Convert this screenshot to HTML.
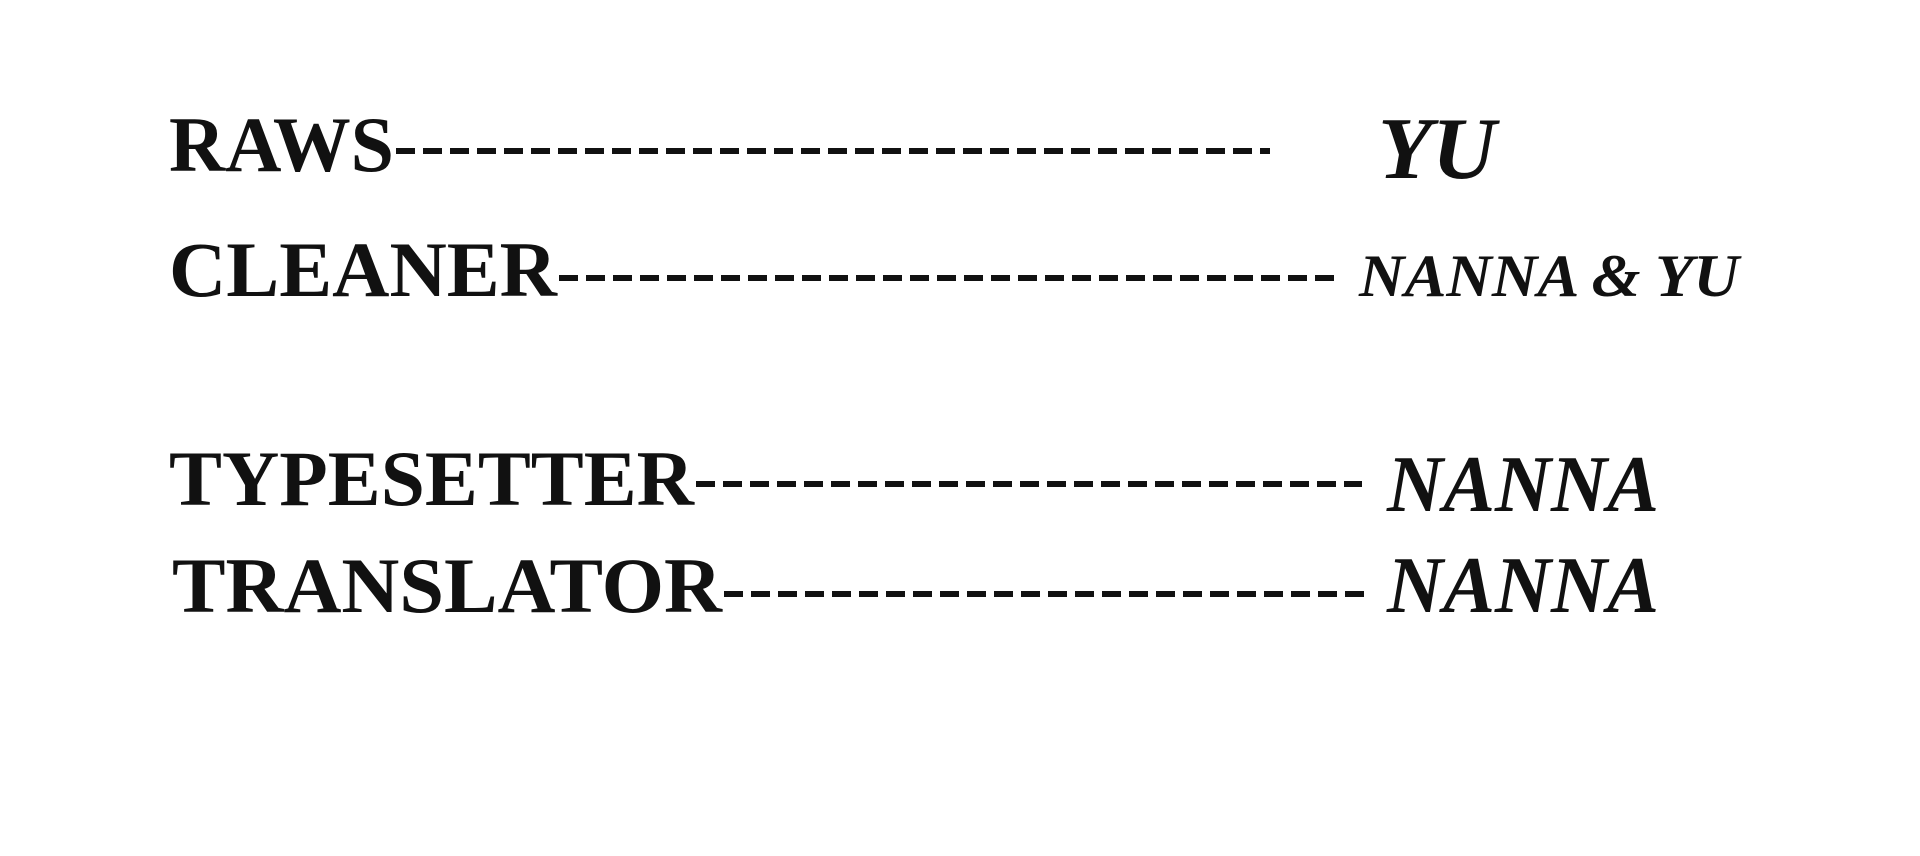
<!DOCTYPE html>
<html><head><style>html,body{margin:0;padding:0;background:#fff;}svg{display:block}</style></head>
<body>
<svg width="1920" height="856" viewBox="0 0 1920 856" xmlns="http://www.w3.org/2000/svg">
<rect width="1920" height="856" fill="#fff"/>
<g font-family="'Liberation Serif', serif" fill="#111">
<g font-weight="bold" font-size="78">
<text x="169" y="171" textLength="225" lengthAdjust="spacingAndGlyphs">RAWS</text>
<text x="169" y="296" textLength="388" lengthAdjust="spacingAndGlyphs">CLEANER</text>
<text x="169" y="505" textLength="525" lengthAdjust="spacingAndGlyphs">TYPESETTER</text>
<text x="172" y="612" textLength="550" lengthAdjust="spacingAndGlyphs">TRANSLATOR</text>
</g>
<g font-weight="bold" font-style="italic">
<text x="1378" y="178" font-size="88" textLength="118" lengthAdjust="spacingAndGlyphs">YU</text>
<text x="1359" y="296" font-size="60" textLength="380" lengthAdjust="spacingAndGlyphs">NANNA &amp; YU</text>
<text x="1387" y="511" font-size="80" textLength="272" lengthAdjust="spacingAndGlyphs">NANNA</text>
<text x="1387" y="612" font-size="80" textLength="272" lengthAdjust="spacingAndGlyphs">NANNA</text>
</g>
</g>
<g stroke="#111" stroke-width="6" stroke-dasharray="19 8">
<line x1="396" y1="151" x2="1270" y2="151"/>
<line x1="559" y1="278" x2="1337" y2="278"/>
<line x1="696" y1="484" x2="1362" y2="484"/>
<line x1="724" y1="594" x2="1368" y2="594"/>
</g>
</svg>
</body></html>
